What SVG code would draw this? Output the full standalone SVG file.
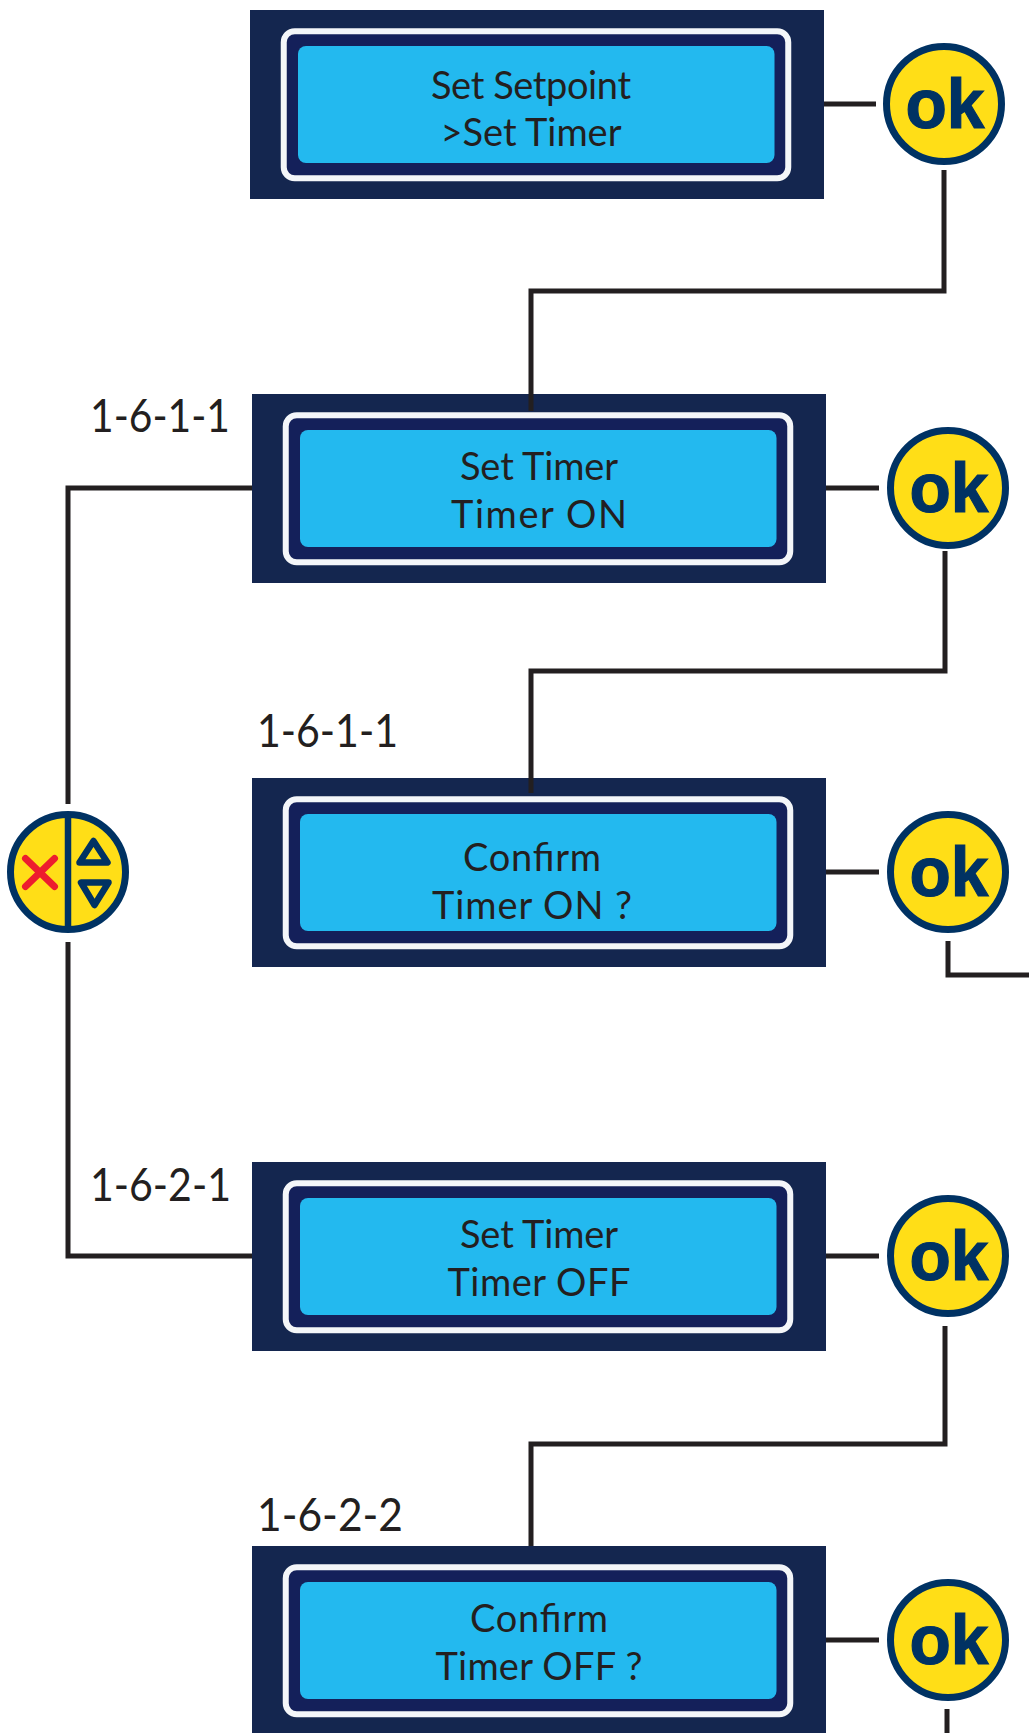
<svg xmlns="http://www.w3.org/2000/svg" xmlns:xlink="http://www.w3.org/1999/xlink" width="1029" height="1733" viewBox="0 0 1029 1733">
<style>
.bg{fill:#14264f}
.frame{fill:#14205a;stroke:#f4f6f9;stroke-width:6}
.lcd{fill:#23b9ef}
.t{font-family:"Lato","Open Sans",sans-serif;font-size:38px;fill:#231f20;text-anchor:middle}
.id{font-family:"Lato","Open Sans",sans-serif;font-size:46px;fill:#231f20}
.c{fill:#ffde17;stroke:#003263;stroke-width:7}
.ok{font-family:"Liberation Sans",Arial,sans-serif;font-weight:700;font-size:71px;fill:#003263;stroke:#003263;stroke-width:1.2;text-anchor:middle}
.w{fill:none;stroke:#231f20;stroke-width:5}
.n{fill:none;stroke:#003263;stroke-width:6.5;stroke-linejoin:round}
</style>
<defs>
<g id="lcd">
<rect class="bg" width="574" height="189"/>
<rect class="frame" x="33.75" y="21.25" width="504.5" height="147" rx="11"/>
<rect class="lcd" x="48" y="36" width="476.5" height="117" rx="8"/>
</g>
<g id="okb">
<circle class="c" r="57.5"/>
<text class="ok" x="1" y="24" textLength="79" lengthAdjust="spacingAndGlyphs">ok</text>
</g>
</defs>
<g id="lcd1"><use xlink:href="#lcd" href="#lcd" x="250" y="10"/><text class="t" x="531" y="99" textLength="200">Set Setpoint</text><text class="t" x="531" y="146" textLength="181">&gt;Set Timer</text></g>
<g id="ok1"><use xlink:href="#okb" href="#okb" x="944" y="104"/></g>
<g id="lcd2"><use xlink:href="#lcd" href="#lcd" x="252" y="394"/><text class="t" x="539" y="480" textLength="158">Set Timer</text><text class="t" x="539" y="528" textLength="176">Timer ON</text></g>
<g id="ok2"><use xlink:href="#okb" href="#okb" x="948" y="488"/></g>
<g id="lcd3"><use xlink:href="#lcd" href="#lcd" x="252" y="778"/><text class="t" x="532" y="871" textLength="138">Confirm</text><text class="t" x="532" y="919" textLength="200">Timer ON ?</text></g>
<g id="ok3"><use xlink:href="#okb" href="#okb" x="948" y="872"/></g>
<g id="lcd4"><use xlink:href="#lcd" href="#lcd" x="252" y="1162"/><text class="t" x="539" y="1248" textLength="158">Set Timer</text><text class="t" x="539" y="1296" textLength="183">Timer OFF</text></g>
<g id="ok4"><use xlink:href="#okb" href="#okb" x="948" y="1256"/></g>
<g id="lcd5"><use xlink:href="#lcd" href="#lcd" x="252" y="1546"/><text class="t" x="539" y="1632" textLength="138">Confirm</text><text class="t" x="539" y="1680" textLength="207">Timer OFF ?</text></g>
<g id="ok5"><use xlink:href="#okb" href="#okb" x="948" y="1640"/></g>
<g id="label1"><text class="id" x="90" y="432" textLength="140" lengthAdjust="spacingAndGlyphs">1-6-1-1</text></g>
<g id="label2"><text class="id" x="257" y="747" textLength="141" lengthAdjust="spacingAndGlyphs">1-6-1-1</text></g>
<g id="label3"><text class="id" x="90" y="1201" textLength="141" lengthAdjust="spacingAndGlyphs">1-6-2-1</text></g>
<g id="label4"><text class="id" x="257" y="1531" textLength="146" lengthAdjust="spacingAndGlyphs">1-6-2-2</text></g>
<g id="nav">
<circle class="c" cx="68" cy="872" r="57.5"/>
<path d="M68 814V926" class="n"/>
<path d="M25.5 858.5L54.5 886.5M54.5 858.5L25.5 886.5" fill="none" stroke="#ed1c2e" stroke-width="7" stroke-linecap="round"/>
<path d="M93.5 841L107.5 862.5H79.5Z" class="n"/>
<path d="M81 882.5H108.5L94.5 905Z" class="n"/>
</g>
<g id="connectors">
<path class="w" d="M824 104H876"/>
<path class="w" d="M944 170V291H531V411"/>
<path class="w" d="M826 488H879"/>
<path class="w" d="M945 551V671H531V793"/>
<path class="w" d="M826 872H879"/>
<path class="w" d="M948 941V975H1029"/>
<path class="w" d="M826 1256H879"/>
<path class="w" d="M945 1326V1444H531V1546"/>
<path class="w" d="M826 1640H879"/>
<path class="w" d="M947 1709V1733"/>
<path class="w" d="M252 488H68V804"/>
<path class="w" d="M68 942V1256H252"/>
</g>
</svg>
